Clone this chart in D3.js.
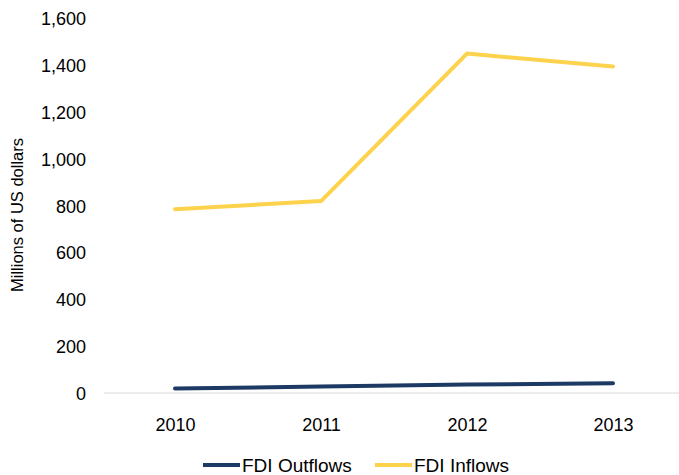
<!DOCTYPE html>
<html>
<head>
<meta charset="utf-8">
<script src="https://cdn.jsdelivr.net/npm/d3@7"></script>
<style>
  body { margin: 0; background: #fff; }
  svg text { font-family: "Liberation Sans", Arial, sans-serif; fill: #000; }
</style>
</head>
<body>
<div class="graph"></div>
<script>
// Data
var years = ['2010', '2011', '2012', '2013'];
var outflows = [19, 28, 36, 42];
var inflows = [785, 820, 1450, 1395];
var yTicks = [0, 200, 400, 600, 800, 1000, 1200, 1400, 1600];

var seriesNames = ['FDI Outflows', 'FDI Inflows'];
var seriesColors = ['#1c3a63', '#fdd24c'];

var width = 679, height = 475;

var svg = d3.select('.graph')
  .append('svg')
  .attr('width', width)
  .attr('height', height);

// Scales
var x = d3.scalePoint()
  .domain(years)
  .range([102, 686])
  .padding(0.5);

var y = d3.scaleLinear()
  .domain([0, 1600])
  .range([393, 18.5]);

// Baseline
svg.append('line')
  .attr('x1', 104)
  .attr('x2', width)
  .attr('y1', y(0))
  .attr('y2', y(0))
  .style('stroke', '#d9d9d9')
  .style('stroke-width', 1);

// Y axis labels
var yAxis = svg.append('g')
  .attr('transform', 'translate(86,0)')
  .call(d3.axisLeft(y).tickValues(yTicks).tickSize(0).tickPadding(0).tickFormat(d3.format(',')));
yAxis.select('.domain').remove();
yAxis.selectAll('text')
  .style('font-size', '18px')
  .attr('dy', '0.35em');

// X axis labels
var xAxis = svg.append('g')
  .attr('transform', 'translate(0,' + 425 + ')')
  .call(d3.axisBottom(x).tickSize(0).tickPadding(0));
xAxis.select('.domain').remove();
xAxis.selectAll('text')
  .style('font-size', '18px')
  .attr('dy', '0.35em');

// Axis title
svg.append('text')
  .attr('transform', 'translate(23,215) rotate(-90)')
  .attr('text-anchor', 'middle')
  .style('font-size', '16.5px')
  .text('Millions of US dollars');

// Lines
var line = d3.line()
  .x(function(d, i){ return x(years[i]); })
  .y(function(d){ return y(d); });

[outflows, inflows].forEach(function(series, i){
  svg.append('path')
    .datum(series)
    .attr('d', line)
    .style('fill', 'none')
    .style('stroke', seriesColors[i])
    .style('stroke-width', 4)
    .style('stroke-linecap', 'round')
    .style('stroke-linejoin', 'round');
});

// Legend
var legendX = [203, 375];
var legend = svg.selectAll('.legend')
  .data(seriesNames)
  .enter()
  .append('g')
  .attr('class', 'legend')
  .attr('transform', function(d, i){ return 'translate(' + legendX[i] + ',465)'; });

legend.append('line')
  .attr('x1', 0)
  .attr('x2', 37)
  .style('stroke', function(d, i){ return seriesColors[i]; })
  .style('stroke-width', 4);

legend.append('text')
  .attr('x', 39)
  .attr('dy', '0.35em')
  .style('font-size', '19px')
  .text(function(d){ return d; });
</script>
</body>
</html>
